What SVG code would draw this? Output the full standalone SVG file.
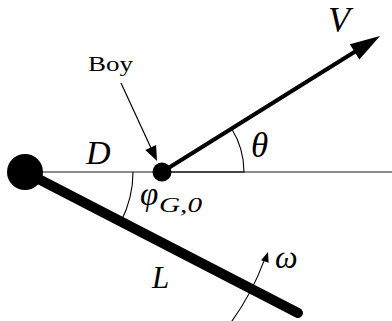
<svg xmlns="http://www.w3.org/2000/svg" width="392" height="321" viewBox="0 0 392 321">
  <defs>
    <style>
      .thin { fill: none; stroke: #000; stroke-width: 1.1; }
      .math { font-family: "Liberation Serif", "DejaVu Serif", serif; font-style: italic; fill: #000; }
      .lbl { font-family: "Liberation Serif", "DejaVu Serif", serif; fill: #000; }
    </style>
  </defs>
  <rect width="392" height="321" fill="#fff"/>
  <g id="connectors">
    <line x1="25" y1="172" x2="392" y2="172" stroke="#666" stroke-width="1.5"/>
    <path id="theta-arc" class="thin" d="M 162 172 L 244 172 A 82 82 0 0 0 231.5 128.5"/>
    <path id="phi-arc" class="thin" d="M 133 172 A 108 108 0 0 1 121.1 221.2"/>
    <line id="rod" x1="25" y1="172" x2="298" y2="313" stroke="#000" stroke-width="10" stroke-linecap="round"/>
    <g id="velocity">
      <line x1="162" y1="172" x2="356" y2="51" stroke="#000" stroke-width="4"/>
      <polygon points="380,36 359.4,59.5 349.8,44.3" fill="#000"/>
    </g>
    <g id="boy-pointer">
      <line x1="121" y1="83" x2="151" y2="148" stroke="#000" stroke-width="1.2"/>
      <polygon points="157,161 156.1,144.9 145.3,149.9" fill="#000"/>
    </g>
    <g id="omega-arrow">
      <path class="thin" d="M 230 323.7 A 255 255 0 0 0 263.9 261.1"/>
      <polygon points="268,252 268.7,262.7 261.1,260.3" fill="#000"/>
    </g>
  </g>
  <g id="pivot">
    <circle cx="25" cy="172" r="18" fill="#000"/>
  </g>
  <g id="boy">
    <circle cx="162" cy="172" r="9.5" fill="#000"/>
  </g>
  <g id="labels">
    <text class="lbl" x="88" y="71" font-size="21" textLength="45" lengthAdjust="spacingAndGlyphs">Boy</text>
    <text class="math" x="328" y="32" font-size="36">V</text>
    <text class="math" x="251" y="157" font-size="35">θ</text>
    <text class="math" x="86" y="164" font-size="34">D</text>
    <text class="math" x="140" y="205" font-size="33">φ</text>
    <text class="math" x="159" y="212" font-size="22" textLength="43" lengthAdjust="spacingAndGlyphs">G,0</text>
    <text class="math" x="152" y="288" font-size="31">L</text>
    <text class="math" x="275" y="268" font-size="32">ω</text>
  </g>
</svg>
